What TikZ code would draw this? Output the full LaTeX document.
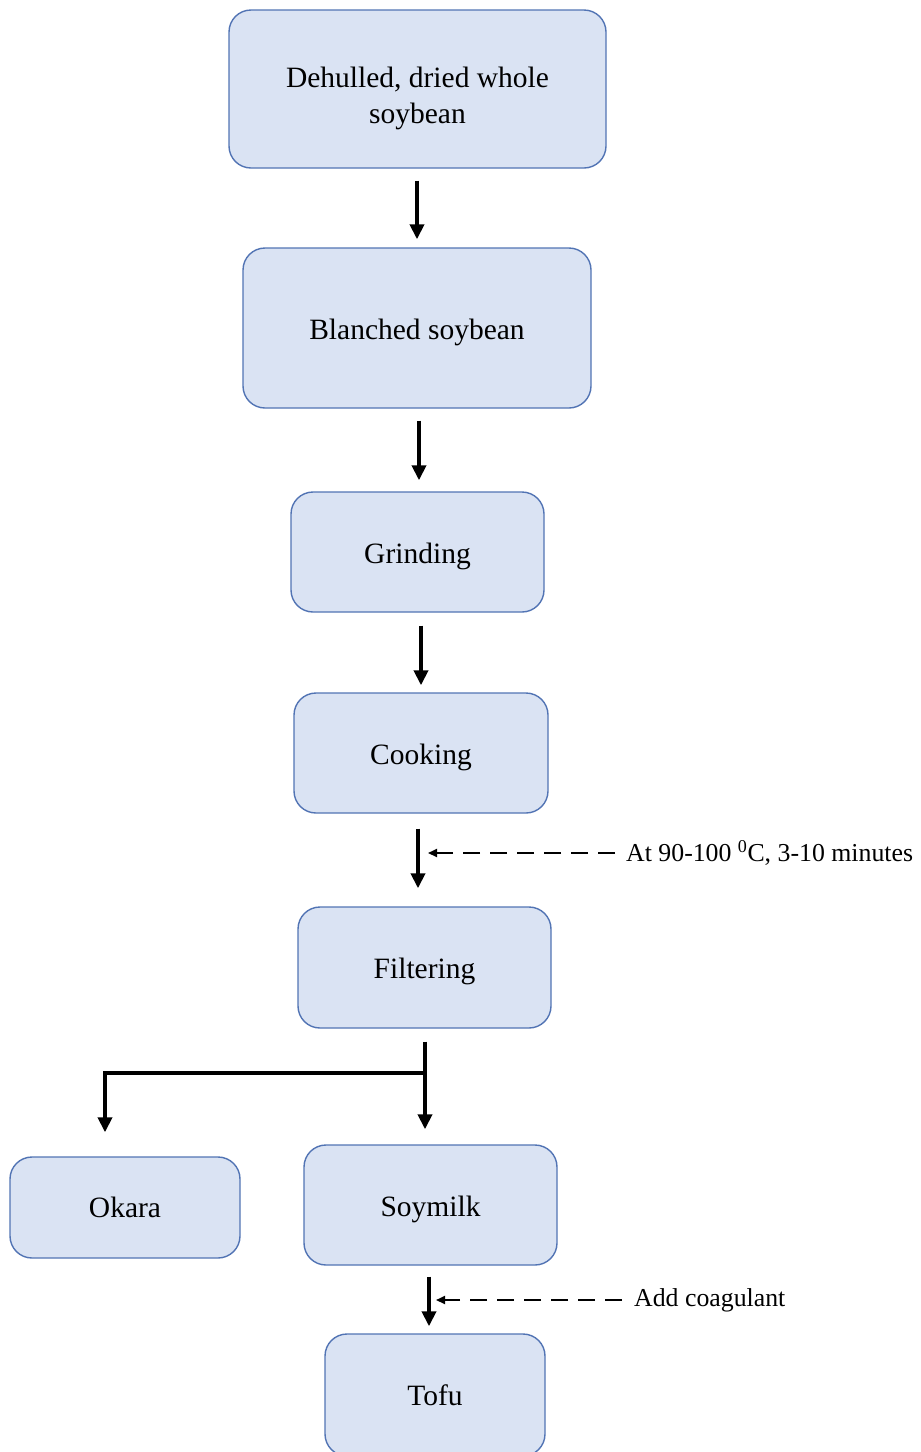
\documentclass[tikz,border=0pt]{standalone}
\usepackage{fontspec}
\setmainfont{Liberation Serif}
\usetikzlibrary{arrows.meta,calc}
\definecolor{boxfill}{HTML}{DAE3F3}
\definecolor{boxline}{HTML}{5274B4}
\begin{document}
\begin{tikzpicture}[x=1pt,y=-1pt,
  stepbox/.style={draw=boxline, fill=boxfill, line width=1.4pt, rounded corners=22pt,
    font=\fontsize{29.5}{36}\selectfont, align=center, inner sep=0pt},
  lower/.style={text height=29pt, text depth=6.5pt},
  flow/.style={line width=3.8pt, -{Triangle[length=15pt,width=14pt]}},
  branch/.style={line width=3.8pt},
  notearrow/.style={line width=1.8pt, dash pattern=on 17pt off 10pt, -{Triangle[length=9pt,width=8pt]}},
  notetext/.style={font=\fontsize{25.8}{30}\selectfont, anchor=west, inner sep=0pt}]
\path[use as bounding box] (0,0) rectangle (921,1452);
\clip (0,0) rectangle (921,1452);

\node[stepbox, minimum width=377pt, minimum height=158pt, text height=76pt, text depth=6.5pt] (a) at (417.5,89) {Dehulled, dried whole\\soybean};
\node[stepbox, lower, minimum width=348pt, minimum height=160pt] (b) at (417,328) {Blanched soybean};
\node[stepbox, lower, minimum width=253pt, minimum height=120pt] (c) at (417.5,552) {Grinding};
\node[stepbox, lower, minimum width=254pt, minimum height=120pt] (d) at (421,753) {Cooking};
\node[stepbox, lower, minimum width=253pt, minimum height=121pt] (e) at (424.5,967.5) {Filtering};
\node[stepbox, minimum width=230pt, minimum height=101pt] (ok) at (125,1207.5) {Okara};
\node[stepbox, lower, minimum width=253pt, minimum height=120pt] (sm) at (430.5,1205) {Soymilk};
\node[stepbox, minimum width=220pt, minimum height=122pt] (tf) at (435,1395) {Tofu};

\node[notetext] (n1) at (626,853) {At 90-100 \textsuperscript{0}C, 3-10 minutes};
\node[notetext] (n2) at (634,1300) {Add coagulant};

% main arrows
\draw[flow] ($(a.south)+(-0.5,12)$) -- ($(a.south |- b.north)+(-0.5,-8)$);
\draw[flow] ($(b.south)+(2,12)$) -- ($(b.south |- c.north)+(2,-11)$);
\draw[flow] ($(c.south)+(3.5,13)$) -- ($(c.south |- d.north)+(3.5,-7)$);
\draw[flow] ($(d.south)+(-3,15)$) coordinate (d1) -- ($(d.south |- e.north)+(-3,-18)$);
\coordinate (m1) at ($(d1 |- n1.west)$);
\draw[notearrow] ($(n1.west)+(-11,0)$) -- ($(m1)+(10,0)$);

% branch
\coordinate (j) at ($(e.south)+(0.5,44)$);
\coordinate (k) at ($(j -| ok.north)+(-20,0)$);
\draw[flow] ($(e.south)+(0.5,13)$) -- ($(e.south |- sm.north)+(0.5,-15)$);
\draw[branch, line cap=rect] (j) -- (k);
\draw[flow] (k) -- ($(ok.north)+(-20,-24)$);

\draw[flow] ($(sm.south)+(-1.5,11)$) coordinate (s1) -- ($(sm.south |- tf.north)+(-1.5,-7)$);
\coordinate (m2) at ($(s1 |- n2.west)$);
\draw[notearrow] ($(n2.west)+(-12,0)$) -- ($(m2)+(7,0)$);
\end{tikzpicture}
\end{document}
